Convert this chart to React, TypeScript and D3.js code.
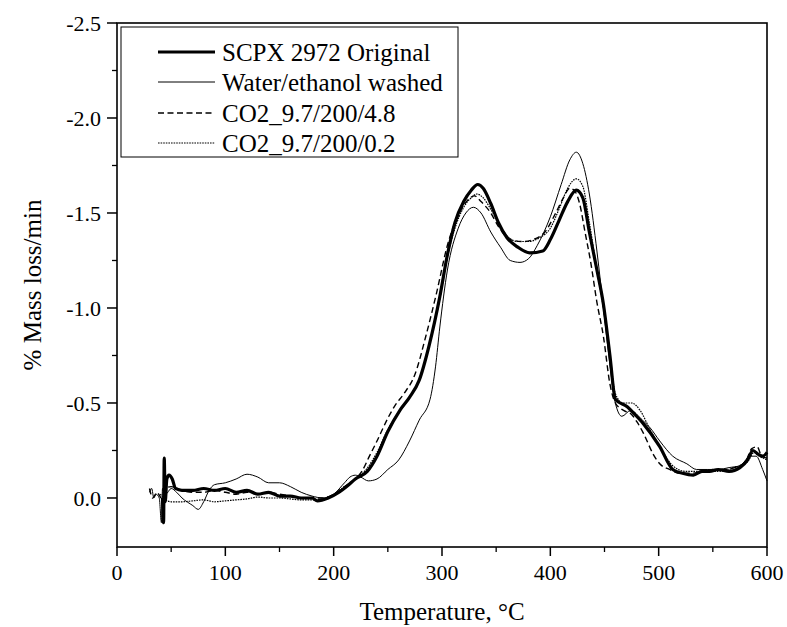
import React from "react";
import * as d3 from "d3";

type P = [number, number];

const seriesNames = [
  "SCPX 2972 Original",
  "Water/ethanol washed",
  "CO2_9.7/200/4.8",
  "CO2_9.7/200/0.2",
];

const original: P[] = [
  [42, 0.0], [43, 0.13], [43.6, -0.21], [44.5, 0.02], [46, -0.1], [48, -0.12], [51, -0.1], [54, -0.05],
  [60, -0.04], [70, -0.04], [80, -0.05], [90, -0.04], [100, -0.05], [110, -0.03], [120, -0.04],
  [130, -0.02], [140, -0.03], [150, -0.01], [160, -0.01], [170, 0.0], [180, 0.0], [185, 0.015],
  [195, 0.0], [205, -0.03], [212, -0.06], [220, -0.1], [231, -0.14], [240, -0.22], [250, -0.35],
  [261, -0.46], [270, -0.53], [279, -0.62], [288, -0.8], [298, -1.06], [305, -1.28], [312, -1.45],
  [320, -1.56], [327, -1.62], [333, -1.65], [338, -1.63], [345, -1.55], [352, -1.45], [360, -1.37],
  [370, -1.32], [381, -1.29], [393, -1.3], [400, -1.36], [408, -1.46], [416, -1.56], [424, -1.62],
  [430, -1.58], [436, -1.4], [443, -1.2], [449, -1.02], [455, -0.75], [460, -0.52], [471, -0.48],
  [478, -0.44], [486, -0.39], [501, -0.27], [513, -0.15], [522, -0.13], [532, -0.12], [540, -0.14],
  [547, -0.14], [555, -0.15], [565, -0.14], [575, -0.16], [582, -0.2], [587, -0.25], [592, -0.23],
  [596, -0.22], [600, -0.24],
];

const washed: P[] = [
  [30, -0.03], [32, -0.05], [34, 0.0], [36, -0.02], [39, 0.0], [41, 0.13], [42, -0.05], [45, -0.02],
  [50, -0.05], [55, -0.03], [60, 0.0], [70, 0.04], [75, 0.06], [80, 0.02], [85, -0.04], [90, -0.07],
  [100, -0.08], [110, -0.1], [120, -0.125], [130, -0.11], [140, -0.08], [150, -0.08], [160, -0.06],
  [170, -0.03], [180, -0.01], [190, 0.0], [200, -0.02], [210, -0.08], [215, -0.11], [220, -0.12],
  [225, -0.11], [232, -0.09], [240, -0.1], [250, -0.15], [260, -0.2], [270, -0.3], [279, -0.41],
  [289, -0.52], [294, -0.69], [298, -0.9], [305, -1.2], [315, -1.42], [322, -1.5], [329, -1.53],
  [336, -1.5], [345, -1.4], [354, -1.32], [363, -1.25], [372, -1.24], [380, -1.26], [388, -1.33],
  [400, -1.48], [410, -1.65], [418, -1.78], [424, -1.82], [430, -1.76], [436, -1.6], [443, -1.3],
  [450, -0.95], [455, -0.7], [460, -0.5], [466, -0.43], [474, -0.46], [485, -0.41], [492, -0.37],
  [501, -0.3], [513, -0.22], [526, -0.18], [535, -0.15], [545, -0.15], [555, -0.15], [565, -0.16],
  [575, -0.17], [585, -0.22], [590, -0.22], [596, -0.15], [600, -0.09],
];

const co2High: P[] = [
  [30, -0.05], [33, 0.0], [37, -0.03], [41, 0.0], [45, -0.05], [50, -0.06], [60, -0.04], [70, -0.03],
  [80, -0.03], [90, -0.04], [100, -0.03], [110, -0.02], [120, -0.03], [130, -0.02], [140, -0.03],
  [150, -0.02], [160, -0.01], [170, 0.0], [180, 0.0], [190, 0.0], [200, -0.02], [210, -0.06],
  [220, -0.1], [226, -0.14], [233, -0.22], [240, -0.3], [250, -0.42], [257, -0.49], [265, -0.55],
  [275, -0.65], [285, -0.85], [295, -1.08], [305, -1.33], [312, -1.45], [320, -1.54], [326, -1.58],
  [330, -1.59], [336, -1.56], [345, -1.5], [352, -1.43], [363, -1.36], [375, -1.35], [384, -1.36],
  [395, -1.4], [405, -1.5], [412, -1.58], [418, -1.63], [422, -1.62], [427, -1.55], [432, -1.4],
  [437, -1.25], [443, -1.03], [449, -0.85], [455, -0.6], [460, -0.5], [468, -0.46], [475, -0.44],
  [480, -0.4], [486, -0.34], [495, -0.23], [501, -0.18], [510, -0.15], [520, -0.13], [530, -0.13],
  [540, -0.14], [550, -0.15], [560, -0.15], [570, -0.16], [580, -0.19], [586, -0.26], [591, -0.27],
  [595, -0.22], [600, -0.21],
];

const co2Low: P[] = [
  [40, -0.02], [45, 0.01], [50, 0.02], [60, 0.02], [70, 0.015], [80, 0.01], [90, 0.02], [100, 0.015],
  [110, 0.01], [120, 0.005], [130, -0.005], [140, 0.0], [150, 0.0], [160, 0.005], [170, 0.01],
  [180, 0.01], [190, 0.005], [200, -0.02], [210, -0.06], [220, -0.1], [230, -0.15], [240, -0.24],
  [250, -0.36], [260, -0.45], [270, -0.53], [280, -0.64], [290, -0.85], [298, -1.05], [305, -1.27],
  [312, -1.42], [320, -1.53], [327, -1.58], [332, -1.6], [338, -1.58], [345, -1.52], [352, -1.45],
  [360, -1.38], [370, -1.35], [380, -1.35], [390, -1.37], [400, -1.42], [408, -1.52], [416, -1.63],
  [424, -1.68], [430, -1.64], [436, -1.45], [443, -1.2], [449, -1.0], [455, -0.75], [460, -0.55],
  [467, -0.5], [475, -0.5], [483, -0.46], [492, -0.36], [501, -0.27], [513, -0.17], [525, -0.14],
  [540, -0.14], [555, -0.14], [570, -0.16], [582, -0.19], [588, -0.24], [593, -0.22], [600, -0.2],
];

const xMajorTicks = [0, 100, 200, 300, 400, 500, 600];
const xMinorTicks = [50, 150, 250, 350, 450, 550];
const yMajorTicks = [-2.5, -2.0, -1.5, -1.0, -0.5, 0.0];
const yMinorTicks = [-2.25, -1.75, -1.25, -0.75, -0.25];

const W = 787;
const H = 627;
const L = 117, R = 767, T = 23, B = 547;

const x = d3.scaleLinear().domain([0, 600]).range([L, R]);
const y = d3.scaleLinear().domain([0.258, -2.5]).range([B, T]);

const line = d3
  .line<P>()
  .x((d) => x(d[0]))
  .y((d) => y(d[1]))
  .curve(d3.curveMonotoneX);

const styles = [
  { w: 3.2, dash: "" },
  { w: 1, dash: "" },
  { w: 1.4, dash: "6,3.5" },
  { w: 1.2, dash: "1.6,1" },
];
const data = [original, washed, co2High, co2Low];

const font = "'Liberation Serif', 'Times New Roman', serif";

export default function App() {
  const legendRows = [52, 82, 113, 143];
  return (
    <svg
      width={W}
      height={H}
      viewBox={`0 0 ${W} ${H}`}
      style={{ position: "absolute", left: 0, top: 0, background: "#fff" }}
    >
      <rect x={0} y={0} width={W} height={H} fill="#fff" />
      <g>
        {data.map((d, i) => (
          <path
            key={i}
            d={line(d) || ""}
            fill="none"
            stroke="#000"
            strokeWidth={styles[i].w}
            strokeDasharray={styles[i].dash}
            strokeLinejoin="round"
          />
        ))}
      </g>
      {/* frame */}
      <rect x={L} y={T} width={R - L} height={B - T} fill="none" stroke="#000" strokeWidth={1.6} />
      {/* x ticks */}
      {xMajorTicks.map((t) => (
        <g key={"xm" + t}>
          <line x1={x(t)} x2={x(t)} y1={B} y2={B + 9} stroke="#000" strokeWidth={1.5} />
          <text
            x={x(t)}
            y={580}
            textAnchor="middle"
            fontFamily={font}
            fontSize={22}
          >
            {t}
          </text>
        </g>
      ))}
      {xMinorTicks.map((t) => (
        <line key={"xn" + t} x1={x(t)} x2={x(t)} y1={B} y2={B + 5} stroke="#000" strokeWidth={1.3} />
      ))}
      {/* y ticks */}
      {yMajorTicks.map((t) => (
        <g key={"ym" + t}>
          <line x1={L - 10} x2={L} y1={y(t)} y2={y(t)} stroke="#000" strokeWidth={1.5} />
          <text
            x={L - 16}
            y={y(t)}
            dy="0.35em"
            textAnchor="end"
            fontFamily={font}
            fontSize={22}
          >
            {t.toFixed(1)}
          </text>
        </g>
      ))}
      {yMinorTicks.map((t) => (
        <line key={"yn" + t} x1={L - 5} x2={L} y1={y(t)} y2={y(t)} stroke="#000" strokeWidth={1.3} />
      ))}
      {/* axis titles */}
      <text x={(L + R) / 2} y={620} textAnchor="middle" fontFamily={font} fontSize={25}>
        Temperature, °C
      </text>
      <text
        transform={`translate(32, ${(T + B) / 2}) rotate(-90)`}
        textAnchor="middle"
        dy="0.35em"
        fontFamily={font}
        fontSize={25}
      >
        % Mass loss/min
      </text>
      {/* legend */}
      <rect x={121} y={27} width={337} height={130} fill="#fff" stroke="#000" strokeWidth={1} />
      {seriesNames.map((n, i) => (
        <g key={n}>
          <line
            x1={158}
            x2={215}
            y1={legendRows[i]}
            y2={legendRows[i]}
            stroke="#000"
            strokeWidth={styles[i].w}
            strokeDasharray={styles[i].dash}
          />
          <text x={222} y={legendRows[i]} dy="0.35em" fontFamily={font} fontSize={25}>
            {n}
          </text>
        </g>
      ))}
    </svg>
  );
}
